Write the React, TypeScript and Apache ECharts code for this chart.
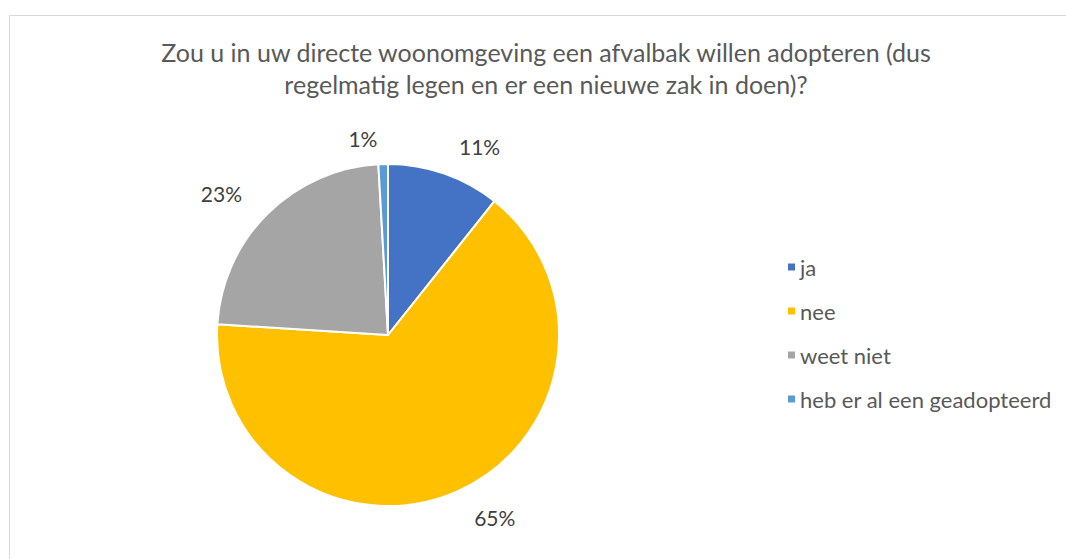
import React, { useEffect, useRef } from "react";
import * as echarts from "echarts";

const titleLines = [
  "Zou u in uw directe woonomgeving een afvalbak willen adopteren (dus",
  "regelmatig legen en er een nieuwe zak in doen)?",
];
const categories = ["ja", "nee", "weet niet", "heb er al een geadopteerd"];
const values = [10.7, 65.3, 23.1, 0.9];
const colors = ["#4472C4", "#FFC000", "#A5A5A5", "#5B9BD5"];

const FONT = "Lato";

export default function App() {
  const ref = useRef<HTMLDivElement>(null);
  useEffect(() => {
    if (!ref.current) return;
    const chart = echarts.init(ref.current, undefined, { renderer: "svg" });
    chart.setOption({
      animation: false,
      backgroundColor: "#ffffff",
      title: {
        text: titleLines.join("\n"),
        left: 541,
        textAlign: "center",
        top: 31,
        textStyle: {
          fontFamily: FONT,
          fontSize: 25,
          fontWeight: "normal",
          color: "#595959",
          lineHeight: 32,
          align: "center",
        },
      },
      graphic: [
        {
          type: "rect",
          shape: { x: 9.5, y: 15.5, width: 1200, height: 700 },
          style: { fill: "none", stroke: "#d9d9d9", lineWidth: 1 },
          silent: true,
        },
      ],
      legend: {
        orient: "vertical",
        left: 781,
        top: 251,
        itemWidth: 9,
        itemHeight: 9,
        itemGap: 22,
        icon: "rect",
        textStyle: {
          fontFamily: FONT,
          fontSize: 22,
          color: "#595959",
          lineHeight: 20,
          padding: [0, 0, 0, -1],
        },
        data: categories,
      },
      series: [
        {
          type: "pie",
          center: [388, 335],
          radius: 171,
          startAngle: 90,
          clockwise: true,
          avoidLabelOverlap: false,
          itemStyle: { borderColor: "#ffffff", borderWidth: 2 },
          label: {
            show: true,
            position: "outside",
            formatter: (p: any) => Math.round(p.value) + "%",
            fontFamily: FONT,
            fontSize: 21,
            color: "#404040",
            distanceToLabelLine: 5,
          },
          labelLine: { show: false, length: 29, length2: 0 },
          data: categories.map((c, i) => ({
            name: c,
            value: values[i],
            itemStyle: { color: colors[i] },
            ...(i === 3 ? { labelLine: { show: false, length: 26, length2: 0 } } : {}),
          })),
        },
      ],
    });
    return () => chart.dispose();
  }, []);
  return (
    <div
      ref={ref}
      style={{ position: "absolute", left: 0, top: 0, width: 1066, height: 559 }}
    />
  );
}
